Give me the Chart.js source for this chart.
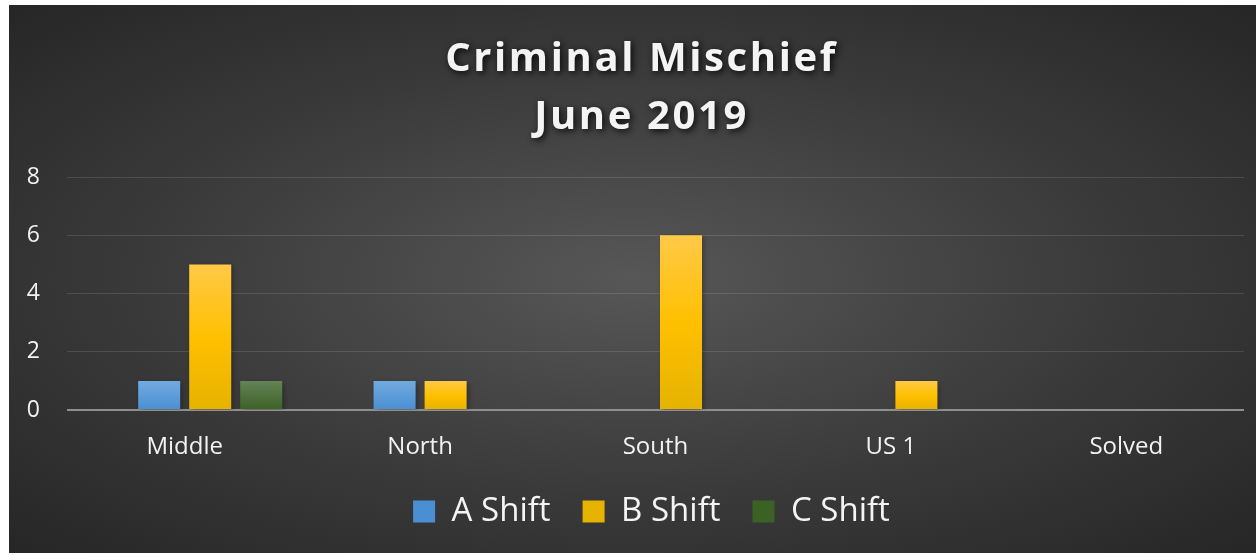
<!DOCTYPE html>
<html>
<head>
<meta charset="utf-8">
<script src="https://cdn.jsdelivr.net/npm/chart.js@4.4.1/dist/chart.umd.min.js"></script>
<style>
    html, body {margin: 0; padding: 0; background: #ffffff;}
    #wrap {
        position: absolute;
        left: 9px;
        top: 5px;
        width: 1247px;
        height: 548px;
        background: radial-gradient(ellipse farthest-corner at 50% 50%, #575757 0%, #3a3a3a 55%, #262626 100%);
    }
    canvas {display: block;}
</style>
</head>
<body>
<div id="wrap">
    <canvas id="chart" width="1247" height="548"></canvas>
</div>
<script>
// chart data
const categories = ["Middle", "North", "South", "US 1", "Solved"];
const blankSeries = [null, null, null, null, null]; // empty series in the source, keeps bars off-centre
const aShift = [1, 1, 0, 0, 0];
const bShift = [5, 1, 6, 1, 0];
const cShift = [1, 0, 0, 0, 0];
const yTicks = [0, 2, 4, 6, 8];

const FONT = "'Open Sans', 'DejaVu Sans', sans-serif";

// per-bar vertical gradient, like the office style fill
function barFill(stops, solid) {
    return function (ctx) {
        const chart = ctx.chart;
        if (ctx.type !== "data" || !chart.chartArea || !chart.scales.y) return solid;
        const v = ctx.raw;
        if (v === null || v === undefined || v === 0) return solid;
        const y = chart.scales.y;
        const top = y.getPixelForValue(v);
        const bottom = y.getPixelForValue(0);
        const g = chart.ctx.createLinearGradient(0, top, 0, bottom);
        stops.forEach(s => g.addColorStop(s[0], s[1]));
        return g;
    };
}

const shadowPlugin = {
    id: "shadows",
    afterLayout(chart) {
        const tb = chart.titleBlock;
        if (tb && !tb._shadowWrapped) {
            const orig = tb.draw.bind(tb);
            tb.draw = function () {
                const c = this.ctx;
                c.save();
                c.translate(6, 0);
                c.shadowColor = "rgba(0,0,0,0.9)";
                c.shadowBlur = 7;
                c.shadowOffsetX = 2;
                c.shadowOffsetY = 2;
                c.letterSpacing = "2.6px";
                orig();
                c.restore();
            };
            tb._shadowWrapped = true;
        }
        // legend sits a little right of centre and closer to the axis in the original
        const lg = chart.legend;
        if (lg) {
            lg.left += 16;
            lg.right += 16;
            lg.top -= 7;
            lg.bottom -= 7;
        }
    },
    beforeDatasetsDraw(chart) {
        const c = chart.ctx;
        c.save();
        c.shadowColor = "rgba(0,0,0,0.35)";
        c.shadowBlur = 5;
        c.shadowOffsetX = 2;
        c.shadowOffsetY = 2;
    },
    afterDatasetsDraw(chart) {
        chart.ctx.restore();
    }
};

const ctx = document.getElementById("chart").getContext("2d");
new Chart(ctx, {
    type: "bar",
    data: {
        labels: categories,
        datasets: [
            {
                label: "",
                data: blankSeries,
                backgroundColor: "rgba(0,0,0,0)",
                borderWidth: 0
            },
            {
                label: "A Shift",
                data: aShift,
                backgroundColor: barFill([[0, "#72aae0"], [1, "#4a8fd3"]], "#5b9bd5"),
                borderWidth: 0
            },
            {
                label: "B Shift",
                data: bShift,
                backgroundColor: barFill([[0, "#ffc947"], [0.5, "#ffc000"], [1, "#e5b300"]], "#ffc000"),
                borderWidth: 0
            },
            {
                label: "C Shift",
                data: cShift,
                backgroundColor: barFill([[0, "#658357"], [1, "#3b6124"]], "#4a6f35"),
                borderWidth: 0
            }
        ]
    },
    options: {
        responsive: false,
        animation: false,
        layout: {padding: {left: 18, right: 12, top: 0, bottom: 8}},
        datasets: {
            bar: {categoryPercentage: 0.867, barPercentage: 0.824}
        },
        scales: {
            x: {
                grid: {display: false, drawTicks: false},
                border: {display: false},
                afterFit: axis => {
                    axis.height = 60;
                },
                ticks: {
                    color: "#f2f2f2",
                    padding: 23,
                    font: {family: FONT, size: 24}
                }
            },
            y: {
                min: 0,
                max: 8,
                afterBuildTicks: axis => {
                    axis.ticks = yTicks.map(v => ({value: v}));
                },
                afterFit: axis => {
                    axis.width = 40;
                },
                grid: {
                    drawTicks: false,
                    color: c => c.tick && c.tick.value === 0 ? "#8f8f8f" : "rgba(255,255,255,0.12)",
                    lineWidth: c => c.tick && c.tick.value === 0 ? 2 : 1
                },
                border: {display: false},
                ticks: {
                    color: "#f2f2f2",
                    padding: 27,
                    font: {family: FONT, size: 23}
                }
            }
        },
        plugins: {
            title: {
                display: true,
                text: ["Criminal Mischief", "June 2019"],
                color: "#f4f4f4",
                font: {family: FONT, size: 40, weight: "bold", lineHeight: 1.45},
                padding: {top: 26, bottom: 30}
            },
            legend: {
                position: "bottom",
                labels: {
                    color: "#f4f4f4",
                    boxWidth: 22,
                    boxHeight: 22,
                    padding: 32,
                    font: {family: FONT, size: 33},
                    filter: item => item.text !== ""
                }
            },
            tooltip: {enabled: false}
        }
    },
    plugins: [shadowPlugin]
});
</script>
</body>
</html>
